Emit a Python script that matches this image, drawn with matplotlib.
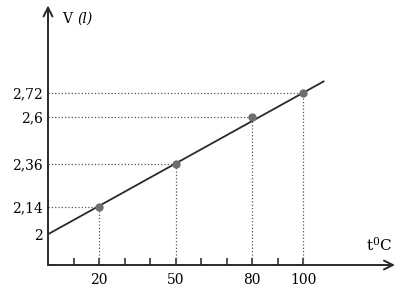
import numpy as np
import matplotlib.pyplot as plt

plt.rcParams['font.family'] = ['DejaVu Serif']
plt.rcParams['mathtext.fontset'] = 'dejavuserif'

# data
temps = [20, 50, 80, 100]
volumes = [2.14, 2.36, 2.6, 2.72]
vol_labels = ['2', '2,14', '2,36', '2,6', '2,72']
vol_ticks = [2, 2.14, 2.36, 2.6, 2.72]
minor_t = [10, 30, 40, 60, 70, 90]
line_t = [0, 108]
line_v = [2, 2.78]

fig = plt.figure(figsize=(4.19, 2.97), dpi=100)
ax = fig.add_axes([48 / 419, 32 / 297, 347 / 419, 257 / 297])
ax.set_xlim(0, 136)
ax.set_ylim(1.843, 3.155)

for s in ax.spines.values():
    s.set_visible(False)

# axes drawn as arrows
ax.annotate('', xy=(1, 0), xytext=(0, 0), xycoords='axes fraction',
            arrowprops=dict(arrowstyle='->', lw=1.4, color='#2a2a2a', mutation_scale=16,
                            shrinkA=0, shrinkB=0))
ax.annotate('', xy=(0, 1.01), xytext=(0, 0), xycoords='axes fraction',
            arrowprops=dict(arrowstyle='->', lw=1.4, color='#2a2a2a', mutation_scale=16,
                            shrinkA=0, shrinkB=0))

# guide lines
for t, v in zip(temps, volumes):
    ax.plot([0, t], [v, v], ls=':', color='#555555', lw=0.9)
    ax.plot([t, t], [1.843, v], ls=':', color='#555555', lw=0.9)

ax.plot(line_t, line_v, color='#2a2a2a', lw=1.3)
ax.plot(temps, volumes, 'o', color='#6e6e6e', ms=5)

ax.set_xticks(temps)
ax.set_xticklabels([str(t) for t in temps], fontsize=10)
ax.set_xticks(minor_t, minor=True)
ax.tick_params(axis='x', which='both', direction='in', length=5, width=1.2,
               color='#333333', pad=6)
ax.set_yticks(vol_ticks)
ax.set_yticklabels(vol_labels, fontsize=10)
ax.tick_params(axis='y', length=0, pad=4)

ax.text(0.04, 0.985, 'V', transform=ax.transAxes, fontsize=10,
        va='top', ha='left')
ax.text(0.085, 0.985, '(l)', transform=ax.transAxes, fontsize=10,
        va='top', ha='left', fontstyle='italic')
ax.text(0.955, 0.045, r't$^{0}$C', transform=ax.transAxes, fontsize=11,
        va='bottom', ha='center')

fig.savefig('out.png', dpi=100)
